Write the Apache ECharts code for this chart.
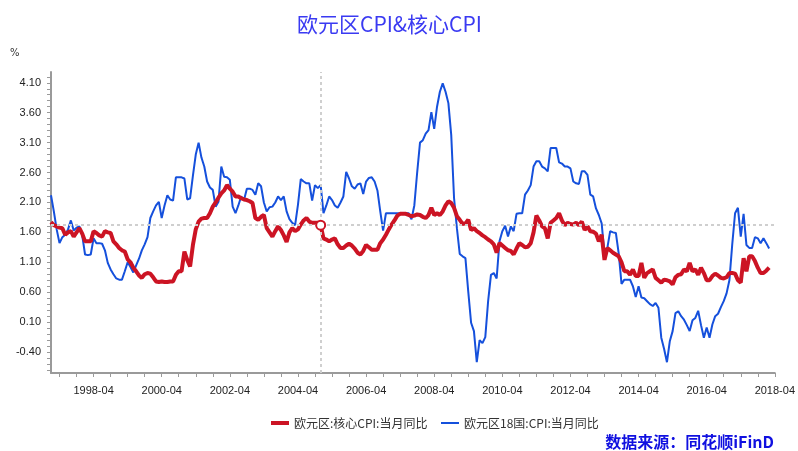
<!DOCTYPE html>
<html>
<head>
<meta charset="utf-8">
<script src="https://cdn.jsdelivr.net/npm/echarts@6/dist/echarts.min.js"></script>
<style>html,body{margin:0;padding:0;background:#fff}#c{width:798px;height:451px}</style>
</head>
<body>
<div id="c"></div>
<script>
// ---- data ----
const startYear = 1997, startMonth = 1, endYear = 2018, endMonth = 4;
const categories = [];
for (let y = startYear, m = startMonth; y < endYear || (y === endYear && m <= endMonth); ) {
  categories.push(y + '-' + (m < 10 ? '0' + m : m));
  m++; if (m > 12) { m = 1; y++; }
}
const seriesNames = ['欧元区:核心CPI:当月同比', '欧元区18国:CPI:当月同比'];
const coreCPI = [
  1.77,1.72,1.70,1.68,1.67,1.56,1.60,1.62,1.53,1.60,1.67,1.58,
  1.45,1.45,1.45,1.62,1.59,1.55,1.53,1.62,1.60,1.59,1.45,1.40,
  1.34,1.30,1.28,1.15,1.10,1.01,0.95,0.88,0.84,0.90,0.92,0.91,
  0.85,0.78,0.77,0.78,0.77,0.77,0.78,0.78,0.89,0.95,0.95,1.28,
  1.14,1.03,1.39,1.65,1.78,1.83,1.84,1.84,1.92,2.03,2.10,2.18,
  2.25,2.30,2.39,2.33,2.28,2.20,2.20,2.17,2.15,2.14,2.12,2.09,
  1.84,1.81,1.86,1.89,1.67,1.60,1.53,1.62,1.70,1.64,1.55,1.44,
  1.60,1.67,1.62,1.65,1.73,1.80,1.84,1.78,1.76,1.76,1.76,1.72,
  1.50,1.48,1.45,1.48,1.50,1.40,1.34,1.34,1.38,1.41,1.38,1.33,
  1.26,1.23,1.29,1.39,1.35,1.31,1.31,1.31,1.42,1.48,1.56,1.65,
  1.73,1.80,1.88,1.91,1.91,1.91,1.89,1.87,1.88,1.90,1.89,1.86,
  1.84,1.89,2.01,1.89,1.92,1.89,1.95,2.05,2.12,2.09,2.01,1.87,
  1.81,1.74,1.75,1.81,1.64,1.67,1.62,1.59,1.55,1.52,1.48,1.45,
  1.40,1.26,1.42,1.38,1.34,1.30,1.29,1.23,1.33,1.42,1.39,1.35,
  1.36,1.42,1.60,1.88,1.80,1.70,1.67,1.50,1.76,1.80,1.84,1.92,
  1.80,1.72,1.76,1.74,1.73,1.76,1.72,1.78,1.64,1.70,1.62,1.61,
  1.58,1.45,1.56,1.14,1.34,1.30,1.26,1.23,1.20,1.10,0.95,0.95,
  0.89,0.98,0.87,0.87,1.09,0.84,0.92,0.95,0.98,0.84,0.80,0.76,
  0.81,0.80,0.78,0.73,0.85,0.89,0.90,0.98,0.95,1.09,0.95,0.98,
  0.89,1.01,0.92,0.80,0.80,0.87,0.91,0.88,0.84,0.83,0.85,0.92,
  0.92,0.91,0.80,0.76,1.17,0.95,1.20,1.20,1.12,1.01,0.92,0.92,
  0.96,1.01
];
const hicp = [
  2.22,1.95,1.65,1.42,1.52,1.56,1.65,1.80,1.63,1.68,1.70,1.55,
  1.23,1.22,1.23,1.50,1.42,1.42,1.41,1.30,1.09,0.98,0.90,0.83,
  0.81,0.81,0.95,1.10,1.02,0.93,1.05,1.16,1.30,1.40,1.52,1.84,
  1.95,2.05,2.11,1.84,2.05,2.22,2.15,2.13,2.52,2.52,2.52,2.50,
  2.15,2.17,2.55,2.90,3.10,2.85,2.70,2.45,2.35,2.31,2.03,2.11,
  2.70,2.53,2.52,2.48,2.03,1.92,2.05,2.20,2.14,2.33,2.33,2.31,
  2.23,2.42,2.37,2.10,1.95,2.02,2.03,2.10,2.20,2.14,2.20,1.95,
  1.82,1.76,1.72,2.06,2.49,2.45,2.42,2.42,2.13,2.39,2.34,2.39,
  1.92,2.05,2.20,2.14,2.05,2.01,2.10,2.20,2.61,2.50,2.37,2.33,
  2.40,2.42,2.24,2.45,2.51,2.52,2.45,2.30,1.95,1.63,1.92,1.92,
  1.92,1.92,1.92,1.92,1.92,1.92,1.92,1.82,2.05,2.60,3.10,3.14,
  3.25,3.31,3.61,3.33,3.70,3.95,4.09,3.95,3.76,3.23,2.17,1.67,
  1.24,1.20,1.17,0.61,0.09,-0.05,-0.57,-0.20,-0.25,-0.15,0.45,0.89,
  0.92,0.83,1.45,1.62,1.71,1.53,1.70,1.62,1.91,1.92,1.92,2.23,
  2.30,2.39,2.70,2.79,2.79,2.70,2.67,2.62,3.01,3.01,3.01,2.77,
  2.75,2.70,2.70,2.67,2.45,2.42,2.41,2.62,2.62,2.56,2.23,2.20,
  2.00,1.89,1.75,1.23,1.34,1.62,1.60,1.59,1.25,0.74,0.81,0.81,
  0.81,0.70,0.52,0.70,0.51,0.50,0.45,0.40,0.37,0.42,0.34,-0.16,
  -0.35,-0.57,-0.22,-0.05,0.25,0.28,0.20,0.14,0.05,-0.05,0.13,0.17,
  0.29,0.05,-0.16,0.01,-0.16,0.06,0.20,0.24,0.35,0.45,0.58,0.80,
  1.40,1.92,2.01,1.53,1.91,1.39,1.34,1.34,1.52,1.50,1.42,1.50,
  1.42,1.33
];
const yLabelValues = [-0.4, 0.1, 0.6, 1.1, 1.6, 2.1, 2.6, 3.1, 3.6, 4.1];
const pointerIndex = 95; // 2004-12

// ---- chart ----
const yTickValues = [];
for (let k = -7; k <= 42; k++) yTickValues.push(k / 10);

const redColor = '#cc1424', blueColor = '#1550dc';
const chart = echarts.init(document.getElementById('c'), null, {renderer: 'canvas'});
const axisColor = '#9a9a9a';
const legendText = {fontSize: 12, color: '#333', fontFamily: 'Noto Sans CJK SC'};
chart.setOption({
  animation: false,
  backgroundColor: '#ffffff',
  title: {
    text: '欧元区CPI&核心CPI',
    left: 292, top: 9,
    textStyle: {color: '#3a3af2', fontSize: 21, fontWeight: 'normal', fontFamily: 'Noto Sans CJK SC'}
  },
  graphic: [
    {type: 'text', left: 10, top: 48, style: {text: '%', fontSize: 10, fill: '#333', fontFamily: 'DejaVu Sans'}},
    {type: 'text', right: 24, top: 434, style: {text: '数据来源：同花顺iFinD', fontSize: 16, fontWeight: 'bold', fill: '#1010e0', fontFamily: 'Noto Sans CJK SC'}}
  ],
  legend: [
    {
      data: [{name: seriesNames[0], icon: 'rect'}],
      left: 266, top: 412, itemWidth: 18, itemHeight: 4, itemGap: 6,
      textStyle: legendText
    },
    {
      data: [{name: seriesNames[1], icon: 'rect'}],
      left: 436, top: 412, itemWidth: 18, itemHeight: 2, itemGap: 6,
      textStyle: legendText
    }
  ],
  grid: {left: 51, right: 19, top: 72, bottom: 78, containLabel: false},
  xAxis: {
    type: 'category',
    data: categories,
    boundaryGap: false,
    axisLine: {onZero: false, lineStyle: {color: axisColor, width: 2}},
    axisTick: {
      length: 4, lineStyle: {color: axisColor},
      interval: function (i, v) { const m = v.slice(5); return m === '04' || m === '10'; }
    },
    axisLabel: {
      color: '#222', fontSize: 11, fontFamily: 'Liberation Sans', margin: 12,
      interval: function (i, v) { return v.slice(5) === '04' && (+v.slice(0, 4)) % 2 === 0; }
    },
    splitLine: {show: false}
  },
  yAxis: {
    type: 'value',
    min: -0.75, max: 4.28,
    axisLine: {show: true, onZero: false, lineStyle: {color: axisColor, width: 2}},
    axisTick: {show: true, length: 4, lineStyle: {color: axisColor}, customValues: yTickValues},
    axisLabel: {
      color: '#222', fontSize: 11, fontFamily: 'Liberation Sans', margin: 10,
      customValues: yLabelValues,
      formatter: function (v) { return v.toFixed(2); }
    },
    splitLine: {show: false}
  },
  series: [
    {
      name: seriesNames[1], type: 'line', data: hicp, symbol: 'none', z: 2,
      lineStyle: {color: blueColor, width: 2}, itemStyle: {color: blueColor}
    },
    {
      name: seriesNames[0], type: 'line', data: coreCPI, symbol: 'none', z: 3,
      lineStyle: {color: redColor, width: 4}, itemStyle: {color: redColor},
      markLine: {
        silent: true, symbol: 'none', label: {show: false},
        lineStyle: {color: '#cfcfcf', type: [3, 3], width: 2},
        data: [{xAxis: categories[pointerIndex]}, {yAxis: coreCPI[pointerIndex]}]
      },
      markPoint: {
        silent: true, symbol: 'circle', symbolSize: 9, label: {show: false},
        itemStyle: {color: '#ffffff', borderColor: redColor, borderWidth: 2},
        data: [{coord: [categories[pointerIndex], coreCPI[pointerIndex]]}]
      }
    }
  ]
});
</script>
</body>
</html>
